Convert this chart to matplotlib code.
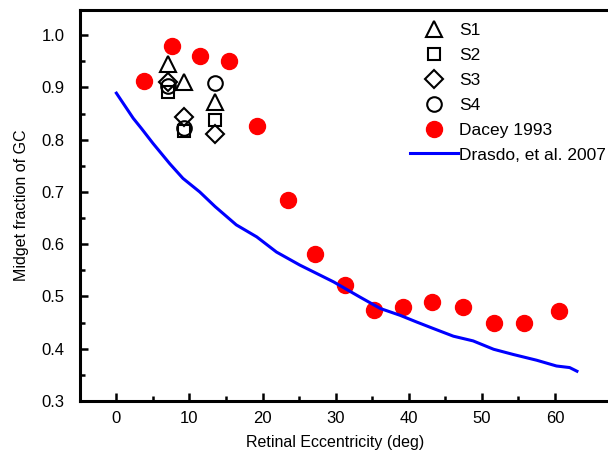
import matplotlib.pyplot as plt
from matplotlib.lines import Line2D
from matplotlib.ticker import FixedLocator

plt.rcParams['font.family'] = ['Liberation Sans', 'DejaVu Sans']

# Dacey 1993 (red dots)
dacey_x = [3.8, 7.6, 11.5, 15.4, 19.2, 23.5, 27.2, 31.3, 35.3, 39.2, 43.2, 47.4, 51.6, 55.7, 60.5]
dacey_y = [0.912, 0.979, 0.960, 0.950, 0.826, 0.684, 0.581, 0.521, 0.475, 0.480, 0.489, 0.479, 0.449, 0.449, 0.472]

# subjects
subj_x = [7.1, 9.3, 13.5]
s1_y = [0.944, 0.910, 0.872]
s2_y = [0.892, 0.816, 0.837]
s3_y = [0.910, 0.843, 0.811]
s4_y = [0.902, 0.822, 0.909]

# Drasdo et al. 2007 curve
drasdo_x = [0.0, 2.3, 3.45, 5.0, 7.3, 9.1, 11.4, 13.5, 16.4, 19.2, 21.9, 25.1, 29.7, 33.3,
            36.1, 38.8, 41.1, 43.3, 46.1, 48.8, 51.6, 54.3, 57.5, 60.2, 62.0, 63.0]
drasdo_y = [0.889, 0.841, 0.821, 0.793, 0.754, 0.726, 0.700, 0.672, 0.637, 0.614, 0.585, 0.560,
            0.528, 0.499, 0.477, 0.464, 0.451, 0.439, 0.424, 0.415, 0.399, 0.389, 0.378, 0.367,
            0.364, 0.357]

x_major = [0, 10, 20, 30, 40, 50, 60]
x_minor = [5, 15, 25, 35, 45, 55]
y_major = [0.3, 0.4, 0.5, 0.6, 0.7, 0.8, 0.9, 1.0]
y_minor = [0.35, 0.45, 0.55, 0.65, 0.75, 0.85, 0.95]

fig = plt.figure(figsize=(6.08, 4.62), dpi=100)
ax = fig.add_axes([0.1313, 0.132, 0.9018, 0.8463])

ms_kw = dict(linestyle='none', markerfacecolor='none', markeredgecolor='black', markeredgewidth=1.5)
ax.plot(dacey_x, dacey_y, 'o', color='red', markersize=11.5, zorder=2)
ax.plot(subj_x, s1_y, marker='^', markersize=12, **ms_kw, zorder=3)
ax.plot(subj_x, s2_y, marker='s', markersize=9, **ms_kw, zorder=3)
ax.plot(subj_x, s3_y, marker='D', markersize=9, **ms_kw, zorder=3)
ax.plot(subj_x, s4_y, marker='o', markersize=10.5, **ms_kw, zorder=3)
ax.plot(drasdo_x, drasdo_y, color='blue', linewidth=2.2, zorder=4)

ax.set_xlim(-5, 70)
ax.set_ylim(0.3, 1.048)
ax.xaxis.set_major_locator(FixedLocator(x_major))
ax.xaxis.set_minor_locator(FixedLocator(x_minor))
ax.yaxis.set_major_locator(FixedLocator(y_major))
ax.yaxis.set_minor_locator(FixedLocator(y_minor))
ax.yaxis.set_major_formatter(plt.FuncFormatter(lambda v, p: f'{v:.1f}'))

for s in ax.spines.values():
    s.set_linewidth(2.2)
ax.tick_params(which='both', direction='in', top=False, right=False, width=1.8, labelsize=12)
ax.tick_params(which='major', length=6)
ax.tick_params(which='minor', length=3.5)
ax.tick_params(axis='y', pad=11)
ax.tick_params(axis='x', pad=7)

ax.set_xlabel('Retinal Eccentricity (deg)', fontsize=11.5)
ax.set_ylabel('Midget fraction of GC', fontsize=11.5)
ax.xaxis.set_label_coords((335 - 80) / (608 * 0.9018), -0.087)
ax.yaxis.set_label_coords(-0.092, 0.5)

handles = [
    Line2D([], [], marker='^', markersize=12, **ms_kw),
    Line2D([], [], marker='s', markersize=9, **ms_kw),
    Line2D([], [], marker='D', markersize=9, **ms_kw),
    Line2D([], [], marker='o', markersize=10.5, **ms_kw),
    Line2D([], [], marker='o', linestyle='none', color='red', markersize=11.5),
    Line2D([], [], color='blue', linewidth=2.2),
]
labels = ['S1', 'S2', 'S3', 'S4', 'Dacey 1993', 'Drasdo, et al. 2007']
fig.legend(handles, labels, loc='upper left', bbox_to_anchor=(410 / 608, 1 - 23 / 462),
           frameon=False, fontsize=12.5, handlelength=2.75, handletextpad=0.1,
           labelspacing=0.56, borderpad=0, borderaxespad=0)

fig.savefig('out.png', dpi=100)
